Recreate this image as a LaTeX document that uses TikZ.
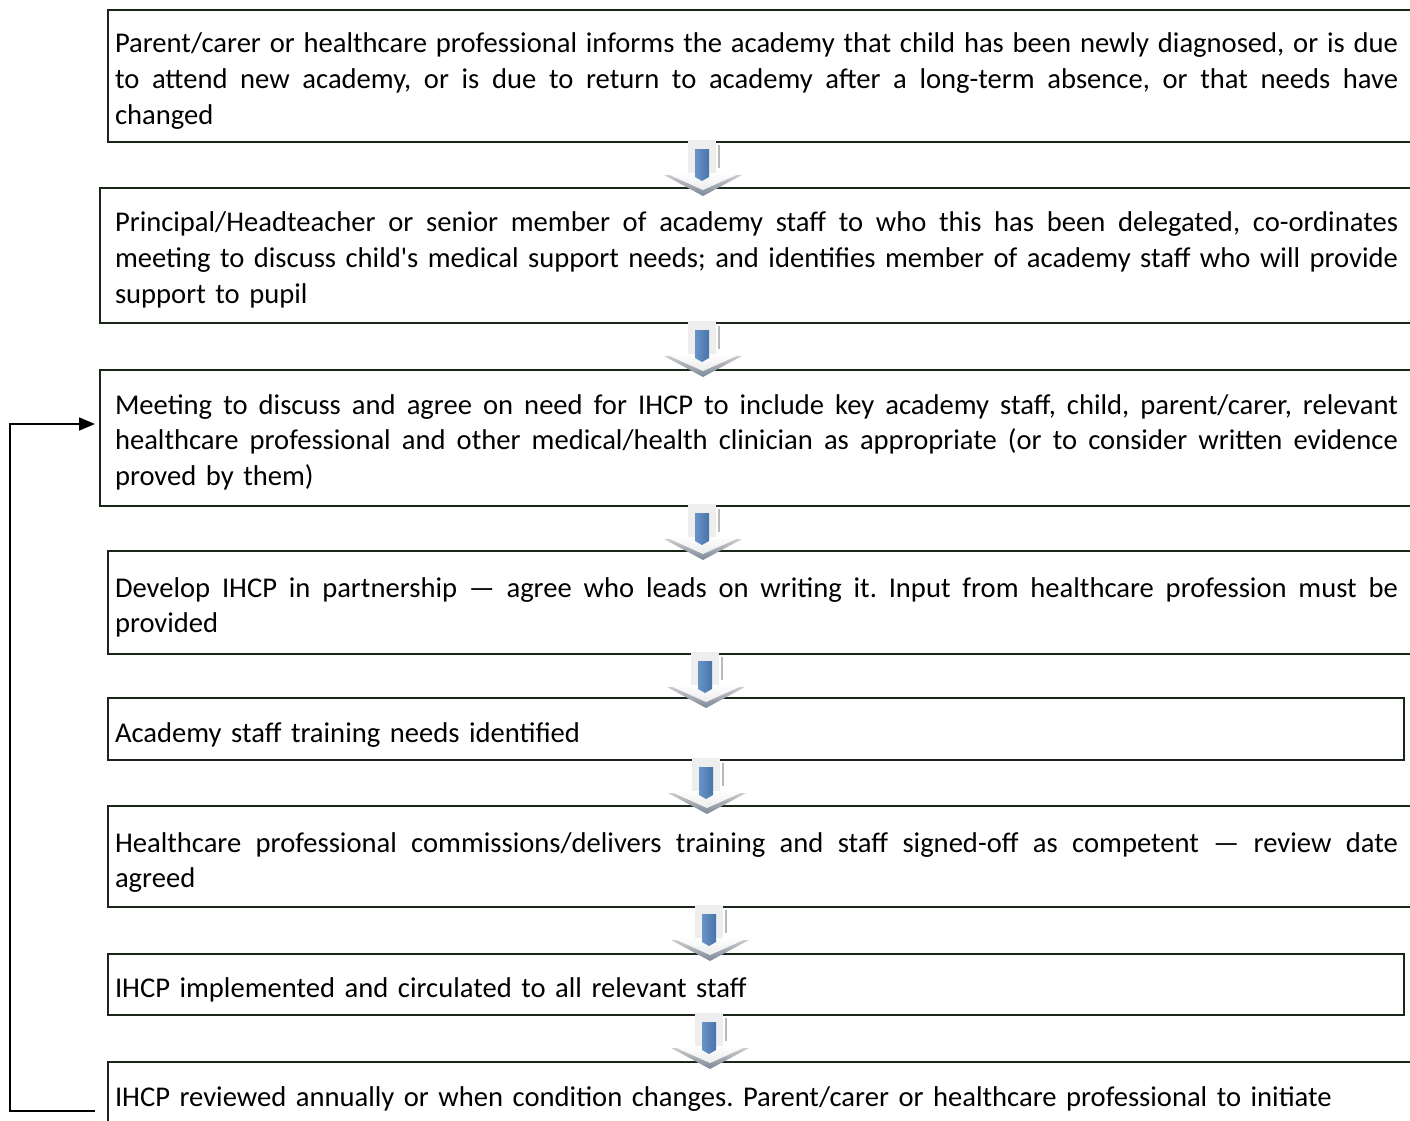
\documentclass[tikz,border=0pt]{standalone}
\usepackage{fontspec}
\setmainfont{Carlito}[Ligatures=TeXOff]
\usetikzlibrary{arrows.meta}
\definecolor{frameC}{RGB}{26,38,26}
\definecolor{barblue}{RGB}{79,129,189}
\definecolor{shaftC}{RGB}{238,238,238}
\definecolor{shadowC}{RGB}{122,134,152}
\newcommand\fl[1]{\leavevmode\hbox to 1283pt{\spaceskip=0.226em plus 0.4em minus 0.08em\relax\xspaceskip=\spaceskip #1}}
\begin{document}
\begin{tikzpicture}[x=1pt,y=-1pt,
  frame/.style={draw=frameC, line width=1.7pt, anchor=north west, inner sep=0pt, outer sep=0pt},
  txt/.style={anchor=north west, inner sep=0pt, outer sep=0pt, text width=1283pt, align=left,
    font=\fontsize{28.6}{35.8}\selectfont\frenchspacing},
  link/.style={draw=black, line width=1.8pt},
  blockarrow/.pic={
    \shade[top color=gray!40, bottom color=shadowC] (-39,33) -- (39,33) -- (0,54) -- cycle;
    \shade[top color=white, bottom color=gray!15] (-40,30) -- (40,30) -- (0,48) -- cycle;
    \fill[shaftC] (-15,-2) rectangle (13,31);
    \fill[gray!55] (15,3) rectangle (17,26);
    \shade[left color=barblue!85!white, right color=barblue!90!black]
      (-8,7) -- (6,7) -- (6,35) -- (-1,39) -- (-8,35) -- cycle;
  }]
\useasboundingbox (0,0) rectangle (1410,1121);

% boxes
\node[frame, minimum width=1320pt, minimum height=132pt] (b1) at (108,10) {};
\node[frame, minimum width=1328pt, minimum height=135pt] (b2) at (100,188) {};
\node[frame, minimum width=1328pt, minimum height=136pt] (b3) at (100,370) {};
\node[frame, minimum width=1320pt, minimum height=103pt] (b4) at (108,551) {};
\node[frame, minimum width=1296pt, minimum height=62pt]  (b5) at (108,698) {};
\node[frame, minimum width=1320pt, minimum height=101pt] (b6) at (108,806) {};
\node[frame, minimum width=1296pt, minimum height=61pt]  (b7) at (108,954) {};
\node[frame, minimum width=1320pt, minimum height=98pt]  (b8) at (108,1062) {};

% block arrows
\pic at (703,142) {blockarrow};
\pic at (703,323) {blockarrow};
\pic at (703,506) {blockarrow};
\pic at (706,654) {blockarrow};
\pic at (707,760) {blockarrow};
\pic at (710,907) {blockarrow};
\pic at (710,1015) {blockarrow};

% texts
\node[txt] (t1) at (115,27) {\noindent\rule{0pt}{26pt}\fl{Parent/carer or healthcare professional informs the academy that child has been newly diagnosed, or is due}\\
\fl{to attend new academy, or is due to return to academy after a long-term absence, or that needs have}\\
changed};
\node[txt] (t2) at (115,205.5) {\noindent\rule{0pt}{26pt}\fl{Principal/Headteacher or senior member of academy staff to who this has been delegated, co-ordinates}\\
\fl{meeting to discuss child's medical support needs; and identifies member of academy staff who will provide}\\
support to pupil};
\node[txt] (t3) at (115,388) {\noindent\rule{0pt}{26pt}\fl{Meeting to discuss and agree on need for IHCP to include key academy staff, child, parent/carer, relevant}\\
\fl{healthcare professional and other medical/health clinician as appropriate (or to consider written evidence}\\
proved by them)};
\node[txt] (t4) at (115,571) {\noindent\rule{0pt}{26pt}\fl{Develop IHCP in partnership — agree who leads on writing it. Input from healthcare profession must be}\\
provided};
\node[txt] (t5) at (115,716) {\noindent\rule{0pt}{26pt}Academy staff training needs identified};
\node[txt] (t6) at (115,826) {\noindent\rule{0pt}{26pt}\fl{Healthcare professional commissions/delivers training and staff signed-off as competent — review date}\\
agreed};
\node[txt] (t7) at (115,971) {\noindent\rule{0pt}{26pt}IHCP implemented and circulated to all relevant staff};
\node[txt] (t8) at (115,1080) {\noindent\rule{0pt}{26pt}IHCP reviewed annually or when condition changes. Parent/carer or healthcare professional to initiate};

% feedback connector
\coordinate (fbstart) at (95,1111);
\coordinate (fbend) at (95,424);
\draw[link, -{Triangle[length=16pt,width=13pt]}] (fbstart) -- ++(-85,0) |- (fbend);
\end{tikzpicture}
\end{document}
